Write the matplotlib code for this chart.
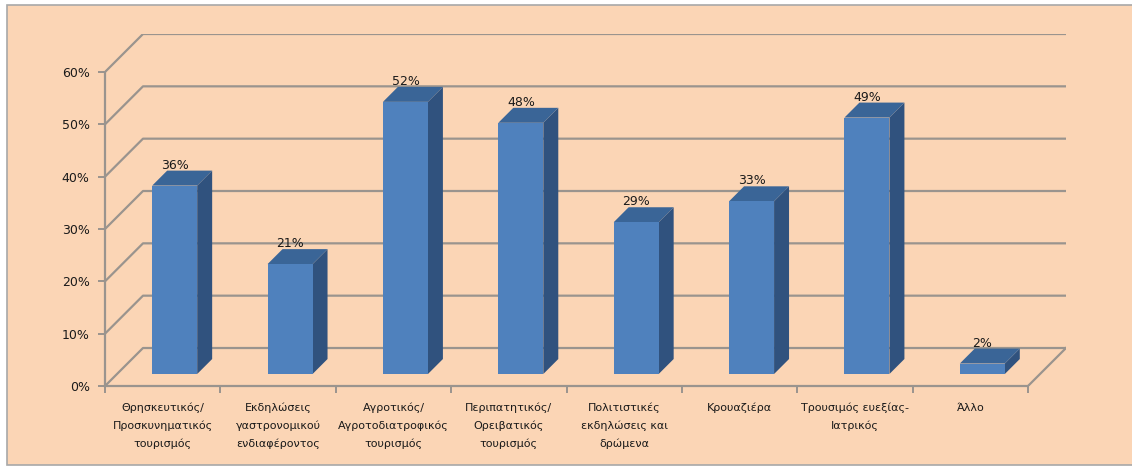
import matplotlib
matplotlib.use('Agg')
import matplotlib.pyplot as plt
from matplotlib.patches import Polygon, Rectangle

categories = ['Θρησκευτικός/\nΠροσκυνηματικός\nτουρισμός',
              'Εκδηλώσεις\nγαστρονομικού\nενδιαφέροντος',
              'Αγροτικός/\nΑγροτοδιατροφικός\nτουρισμός',
              'Περιπατητικός/\nΟρειβατικός\nτουρισμός',
              'Πολιτιστικές\nεκδηλώσεις και\nδρώμενα',
              'Κρουαζιέρα',
              'Τρουσιμός ευεξίας-\nΙατρικός',
              'Άλλο']
values = [36, 21, 52, 48, 29, 33, 49, 2]
yticks = [0, 10, 20, 30, 40, 50, 60]

bg = '#FBD5B5'
front_c = '#4F81BD'
side_c = '#30527E'
top_c = '#3A6597'
grid_c = '#9A948E'
font = ['DejaVu Sans']

# depth offset of the back wall in data units
ddx = 38 / 115.4
ddy = 7.26
n = len(values)
bw = 0.39
d1, d2 = 0.316, 0.71  # bar front / back depth fractions

fig = plt.figure(figsize=(11.32, 4.67), dpi=100)
fig.patch.set_facecolor('white')
fig.patches.append(Rectangle((7 / 1132, 1 - 465 / 467), 1.2, 460 / 467,
                             transform=fig.transFigure, facecolor=bg,
                             edgecolor='#A8A8A8', lw=1.2, zorder=-10))

ax = fig.add_axes([105 / 1132, 1 - 386 / 467, 961 / 1132, 352 / 467])
ax.set_facecolor('none')
ax.set_xlim(0, n + ddx)
ax.set_ylim(0, 60 + ddy)

# walls / grid
for v in yticks:
    ax.plot([0, ddx, n + ddx], [v, v + ddy, v + ddy], color=grid_c, lw=1.6,
            solid_capstyle='butt', zorder=1)
ax.plot([n, n + ddx], [0, ddy], color=grid_c, lw=1.6, zorder=1)

# bars
for i, v in enumerate(values):
    xl = i + 0.5 - bw / 2 + d1 * ddx
    xr = xl + bw
    b = d1 * ddy
    t = v + b
    ox = (d2 - d1) * ddx
    oy = (d2 - d1) * ddy
    ax.add_patch(Polygon([(xr, b), (xr + ox, b + oy), (xr + ox, t + oy), (xr, t)],
                         closed=True, facecolor=side_c, edgecolor='none', zorder=3))
    ax.add_patch(Polygon([(xl, t), (xr, t), (xr + ox, t + oy), (xl + ox, t + oy)],
                         closed=True, facecolor=top_c, edgecolor='none', zorder=3))
    ax.bar(xl, v, width=bw, bottom=b, align='edge', color=front_c, zorder=4)
    ax.annotate(f'{v}%', (xl + bw / 2, t + oy), xytext=(0, 4), textcoords='offset points',
                ha='center', va='center', fontsize=9, family=font, color='#1a1a1a', zorder=6)

for s in ['top', 'right']:
    ax.spines[s].set_visible(False)
ax.spines['left'].set_bounds(0, 60)
ax.spines['bottom'].set_bounds(0, n)
ax.spines['left'].set_color(grid_c)
ax.spines['bottom'].set_color(grid_c)
ax.spines['left'].set_linewidth(1.6)
ax.spines['bottom'].set_linewidth(1.6)

ax.set_yticks(yticks)
ax.set_yticklabels([f'{v}%' for v in yticks], fontsize=9, family=font, color='#1a1a1a')
ax.set_xticks(range(n + 1))
ax.set_xticklabels([])
ax.set_xticks([i + 0.5 for i in range(n)], minor=True)
ax.set_xticklabels(categories, minor=True, fontsize=8, family=font, color='#1a1a1a',
                   linespacing=1.9, va='top')
ax.tick_params(axis='x', which='minor', length=0, pad=12)
ax.tick_params(axis='x', which='major', length=5, color=grid_c, width=1.4)
ax.tick_params(axis='y', length=5, color=grid_c, width=1.4, pad=6)

fig.savefig('out.png', dpi=100, facecolor=fig.get_facecolor())
